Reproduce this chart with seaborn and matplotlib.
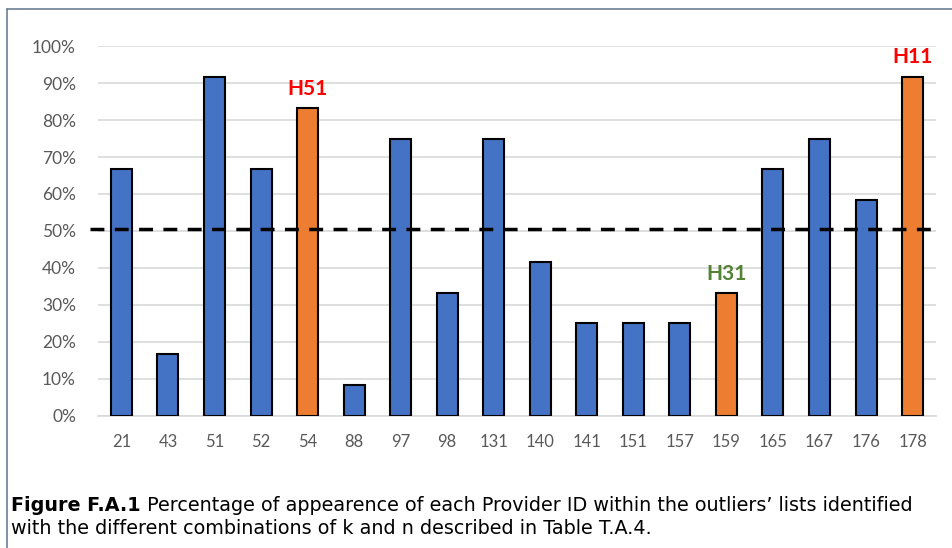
import matplotlib.pyplot as plt
import seaborn as sns
import pandas as pd

provider_ids = ['21', '43', '51', '52', '54', '88', '97', '98', '131', '140',
                '141', '151', '157', '159', '165', '167', '176', '178']
share = [0.667, 0.167, 0.917, 0.667, 0.833, 0.083, 0.75, 0.333, 0.75, 0.417,
         0.25, 0.25, 0.25, 0.333, 0.667, 0.75, 0.583, 0.917]
highlight = ['no', 'no', 'no', 'no', 'yes', 'no', 'no', 'no', 'no', 'no',
             'no', 'no', 'no', 'yes', 'no', 'no', 'no', 'yes']
threshold = 0.505
tags = {'54': ('H51', '#ff0000'), '159': ('H31', '#548235'), '178': ('H11', '#ff0000')}

df = pd.DataFrame({'id': provider_ids, 'share': share, 'hl': highlight})

sns.set_style('white')
plt.rcParams['font.family'] = ['Lato', 'DejaVu Sans']

fig = plt.figure(figsize=(9.53, 5.48), dpi=100)
ax = fig.add_axes([0.103, 0.241, 0.879, 0.675])

sns.barplot(data=df, x='id', y='share', hue='hl', dodge=False, legend=False,
            palette={'no': '#4472C4', 'yes': '#ED7D31'}, width=0.45,
            saturation=1, edgecolor='black', linewidth=1.5, ax=ax, zorder=3)

ax.set_ylim(0, 1)
ax.set_xlim(-0.5, len(provider_ids) - 0.5)
ax.set_yticks([i / 10 for i in range(11)])
ax.set_yticklabels([f'{i * 10}%' for i in range(11)])
ax.yaxis.grid(True, color='#d9d9d9', linewidth=1.2, zorder=0)
ax.set_axisbelow(True)
for s in ['top', 'right', 'left']:
    ax.spines[s].set_visible(False)
ax.spines['bottom'].set_color('#d9d9d9')
ax.spines['bottom'].set_linewidth(1.2)
ax.tick_params(axis='both', length=0, colors='#595959')
ax.tick_params(axis='y', pad=16, labelsize=12.5)
ax.tick_params(axis='x', pad=13, labelsize=12)
ax.set_xlabel('')
ax.set_ylabel('')

ax.axhline(threshold, color='black', linestyle=(0, (4, 3)), linewidth=2.5,
           xmin=-0.01, clip_on=False, zorder=4)

for i, pid in enumerate(provider_ids):
    if pid in tags:
        txt, col = tags[pid]
        ax.text(i, share[i] + 0.025, txt, color=col, fontsize=15,
                fontweight='bold', ha='center', va='bottom')

# frame around figure
fig.add_artist(plt.Line2D([0.0075, 0.0075], [0, 0.983], color='#6a7f94', lw=1.2))
fig.add_artist(plt.Line2D([0.0075, 1], [0.983, 0.983], color='#6a7f94', lw=1.2))

cap = dict(fontsize=13.8, family=['DejaVu Sans'], va='baseline', color='black')
fig.text(0.012, 0.068, 'Figure F.A.1', fontweight='bold', **cap)
fig.text(0.148, 0.068, ' Percentage of appearence of each Provider ID within the outliers\u2019 lists identified',
         **cap)
fig.text(0.012, 0.025, 'with the different combinations of k and n described in Table T.A.4.', **cap)

plt.savefig('out.png', dpi=100)
plt.close()
